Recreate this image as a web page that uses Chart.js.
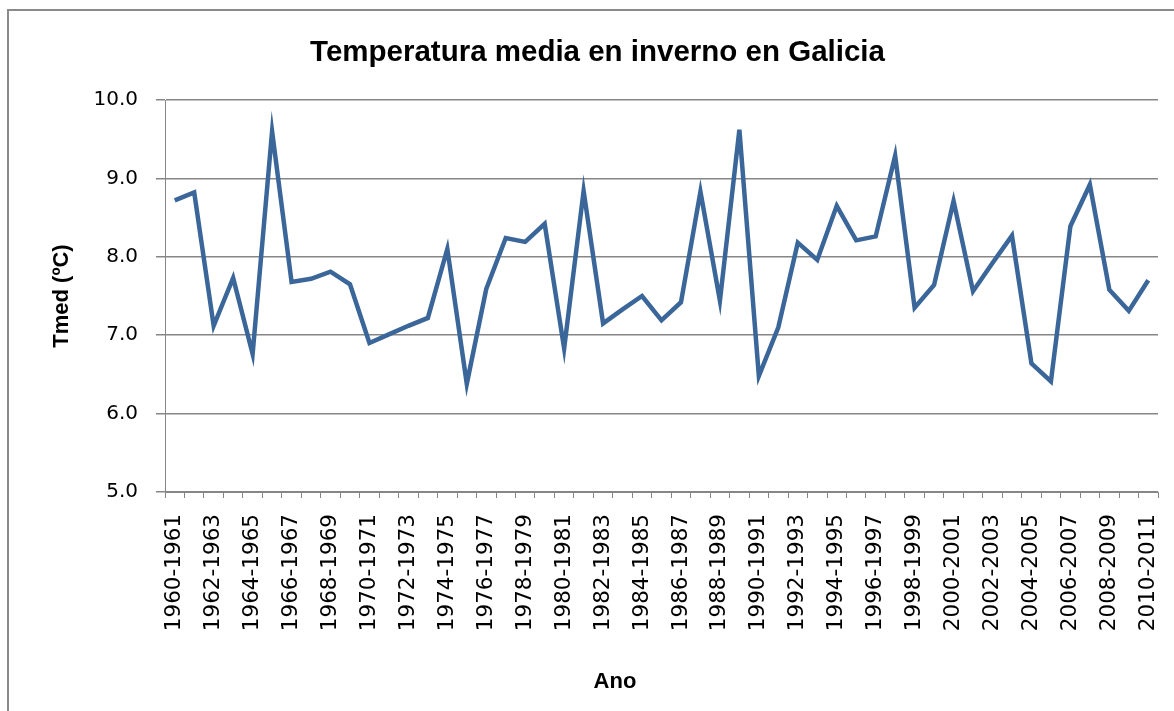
<!DOCTYPE html>
<html>
<head>
<meta charset="utf-8">
<script src="https://cdn.jsdelivr.net/npm/chart.js@4.4.0/dist/chart.umd.min.js"></script>
<style>
    html, body { margin: 0; padding: 0; background: #ffffff; overflow: hidden; }
    #wrap { position: relative; width: 1174px; height: 711px; }
    #frame { position: absolute; left: 7px; top: 9px; width: 1300px; height: 800px; border: 2px solid #8a8a8a; box-sizing: border-box; }
    #chart { position: absolute; left: 0; top: 0; }
</style>
</head>
<body>
<div id="wrap">
    <div id="frame"></div>
    <canvas id="chart" width="1174" height="711"></canvas>
</div>
<script>
// --- Data ---
const winters = [
    "1960-1961", "1961-1962", "1962-1963", "1963-1964", "1964-1965", "1965-1966", "1966-1967", "1967-1968",
    "1968-1969", "1969-1970", "1970-1971", "1971-1972", "1972-1973", "1973-1974", "1974-1975", "1975-1976",
    "1976-1977", "1977-1978", "1978-1979", "1979-1980", "1980-1981", "1981-1982", "1982-1983", "1983-1984",
    "1984-1985", "1985-1986", "1986-1987", "1987-1988", "1988-1989", "1989-1990", "1990-1991", "1991-1992",
    "1992-1993", "1993-1994", "1994-1995", "1995-1996", "1996-1997", "1997-1998", "1998-1999", "1999-2000",
    "2000-2001", "2001-2002", "2002-2003", "2003-2004", "2004-2005", "2005-2006", "2006-2007", "2007-2008",
    "2008-2009", "2009-2010", "2010-2011"
];

const tmed = [
    8.72, 8.82, 7.12, 7.73, 6.76, 9.60, 7.68, 7.72, 7.81, 7.65,
    6.90, 7.01, 7.12, 7.22, 8.10, 6.38, 7.59, 8.24, 8.19, 8.42,
    6.83, 8.84, 7.15, 7.33, 7.50, 7.19, 7.42, 8.83, 7.44, 9.62,
    6.48, 7.10, 8.18, 7.96, 8.65, 8.21, 8.26, 9.29, 7.35, 7.64,
    8.71, 7.56, 7.92, 8.27, 6.64, 6.41, 8.39, 8.92, 7.58, 7.31,
    7.70
];

const yTicks = [5, 6, 7, 8, 9, 10];

const axisGray = '#868686';

// x axis title sits left of the plot centre in the original, so draw it by hand
const xTitlePlugin = {
    id: 'xTitle',
    afterDraw(chart) {
        const ctx = chart.ctx;
        ctx.save();
        ctx.font = 'bold 22px "Liberation Sans"';
        ctx.fillStyle = '#000000';
        ctx.textAlign = 'center';
        ctx.textBaseline = 'middle';
        ctx.fillText('Ano', 615, 682);
        ctx.restore();
    }
};

new Chart(document.getElementById('chart'), {
    type: 'line',
    data: {
        labels: winters,
        datasets: [{
            label: 'Tmed',
            data: tmed,
            borderColor: '#3b6699',
            borderWidth: 4.5,
            pointRadius: 0,
            tension: 0,
            fill: false
        }]
    },
    options: {
        responsive: false,
        animation: false,
        // left padding only shifts the centred title to where the original sits
        layout: { padding: { left: 22, right: 1, top: 0, bottom: 0 } },
        plugins: {
            legend: { display: false },
            tooltip: { enabled: false },
            title: {
                display: true,
                text: 'Temperatura media en inverno en Galicia',
                color: '#000000',
                font: { family: 'Liberation Sans', size: 29.5, weight: 'bold', lineHeight: 1.2 },
                padding: { top: 35, bottom: 29.6 }
            }
        },
        scales: {
            x: {
                offset: true,
                grid: {
                    offset: true,
                    drawOnChartArea: false,
                    drawTicks: true,
                    tickLength: 6,
                    color: axisGray
                },
                border: { color: axisGray, width: 1 },
                ticks: {
                    autoSkip: false,
                    maxRotation: 90,
                    minRotation: 90,
                    padding: 16,
                    color: '#000000',
                    font: { family: 'DejaVu Sans', size: 21.5 },
                    callback: function (value, index) {
                        return index % 2 === 0 ? winters[index] : '';
                    }
                },
                title: { display: false },
                afterFit: function (scale) {
                    scale.height = 219;
                    // plot runs almost to the right edge in the original
                    scale.paddingLeft = 0;
                    scale.paddingRight = 16;
                }
            },
            y: {
                min: 5,
                max: 10,
                afterBuildTicks: function (scale) {
                    scale.ticks = yTicks.map(v => ({ value: v }));
                },
                grid: {
                    color: axisGray,
                    lineWidth: 1.5,
                    tickLength: 9
                },
                border: { color: axisGray, width: 1 },
                ticks: {
                    padding: 18,
                    color: '#000000',
                    font: { family: 'DejaVu Sans', size: 20 },
                    callback: function (value) { return Number(value).toFixed(1); }
                },
                title: {
                    display: true,
                    text: 'Tmed (ºC)',
                    color: '#000000',
                    font: { family: 'Liberation Sans', size: 22, weight: 'bold', lineHeight: 1.2 },
                    padding: { top: 27, bottom: 0 }
                },
                afterFit: function (scale) { scale.width = 143; }
            }
        }
    },
    plugins: [xTitlePlugin]
});
</script>
</body>
</html>
